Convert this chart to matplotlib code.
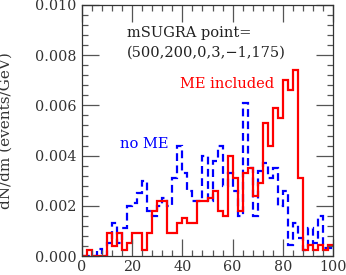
import numpy as np
import matplotlib
matplotlib.use("Agg")
import matplotlib.pyplot as plt
from matplotlib.ticker import MultipleLocator, FixedLocator

# bin edges of the mass histogram (GeV), 2 GeV bins from 0 to 100
bin_lo = 0
bin_hi = 100
bin_w = 2

# "ME included" (red, solid)
me_included = [0, 0.00025, 0, 0, 0, 0.0009, 0.0004, 0.0009, 0.00025, 0.0005,
               0.0009, 0.0009, 0.00025, 0.0009, 0.0018, 0.0022, 0.0022, 0.0009, 0.0009, 0.0013,
               0.0015, 0.0013, 0.0013, 0.0022, 0.0022, 0.0023, 0.0026, 0.0018, 0.0016, 0.0040,
               0.0031, 0.0018, 0.0033, 0.0035, 0.0024, 0.0029, 0.0053, 0.0044, 0.0059, 0.0055,
               0.0070, 0.0066, 0.0074, 0.0031, 0.00025, 0.00045, 0.00025, 0.00045, 0.00025, 0.00045]

# "no ME" (blue, dashed)
no_me = [0, 0, 0, 0.00027, 0, 0.0005, 0.0013, 0.0005, 0.0011, 0.0020,
         0.0021, 0.0025, 0.0030, 0.0018, 0.0016, 0.0020, 0.0023, 0.0020, 0.0031, 0.0044,
         0.0033, 0.0026, 0.0022, 0.0022, 0.0040, 0.0022, 0.0038, 0.0044, 0.0028, 0.0033,
         0.0026, 0.0016, 0.0061, 0.0035, 0.0016, 0.0034, 0.0037, 0.0031, 0.0035, 0.0020,
         0.0026, 0.00044, 0.0013, 0.0007, 0.00025, 0.0011, 0.0005, 0.0016, 0.0003, 0.0003]

xticks = [0, 20, 40, 60, 80, 100]
xticklabels = ["0", "20", "40", "60", "80", "100"]
yticks = [0.000, 0.002, 0.004, 0.006, 0.008, 0.010]
yticklabels = ["0.000", "0.002", "0.004", "0.006", "0.008", "0.010"]

plt.rcParams['font.family'] = ['DejaVu Serif']

fig = plt.figure(figsize=(3.46, 2.75), dpi=100)
ax = fig.add_axes([82/346, 1 - 256/275, 251/346, 251/275])

edges = np.arange(bin_lo, bin_hi + bin_w, bin_w)
ax.stairs(no_me, edges, baseline=None, color='#0000ff', lw=1.6,
          linestyle=(0, (3.5, 2.0)))
ax.stairs(me_included, edges, baseline=None, color='#ff0000', lw=1.6)

ax.set_xlim(0, 100)
ax.set_ylim(0, 0.010)

ax.xaxis.set_major_locator(FixedLocator(xticks))
ax.set_xticklabels(xticklabels)
ax.yaxis.set_major_locator(FixedLocator(yticks))
ax.set_yticklabels(yticklabels)
ax.xaxis.set_minor_locator(MultipleLocator(4))
ax.yaxis.set_minor_locator(MultipleLocator(0.0004))

tc = '#555555'
ax.tick_params(which='both', direction='in', top=True, right=True, color=tc, width=0.9)
ax.tick_params(which='major', length=12, labelsize=10.3, pad=4, labelcolor='#333333')
ax.tick_params(which='minor', length=4)
ax.tick_params(axis='x', which='major', pad=3)
for s in ax.spines.values():
    s.set_color('#333333')
    s.set_linewidth(0.9)

ax.set_ylabel("dN/dm (events/GeV)", fontsize=11, color='#333333')
ax.yaxis.set_label_coords(-0.277, 0.5)

ax.text(0.179, 0.8725, "mSUGRA point=", transform=ax.transAxes, fontsize=10.5,
        color='#222222', va='baseline', ha='left')
ax.text(0.179, 0.793, "(500,200,0,3,\u22121,175)", transform=ax.transAxes, fontsize=10.5,
        color='#222222', va='baseline', ha='left')
ax.text(0.390, 0.669, "ME included", transform=ax.transAxes, fontsize=10.5,
        color='#ff0000', va='baseline', ha='left')
ax.text(0.151, 0.430, "no ME", transform=ax.transAxes, fontsize=10.5,
        color='#0000ff', va='baseline', ha='left')

fig.savefig("out.png", dpi=100)
